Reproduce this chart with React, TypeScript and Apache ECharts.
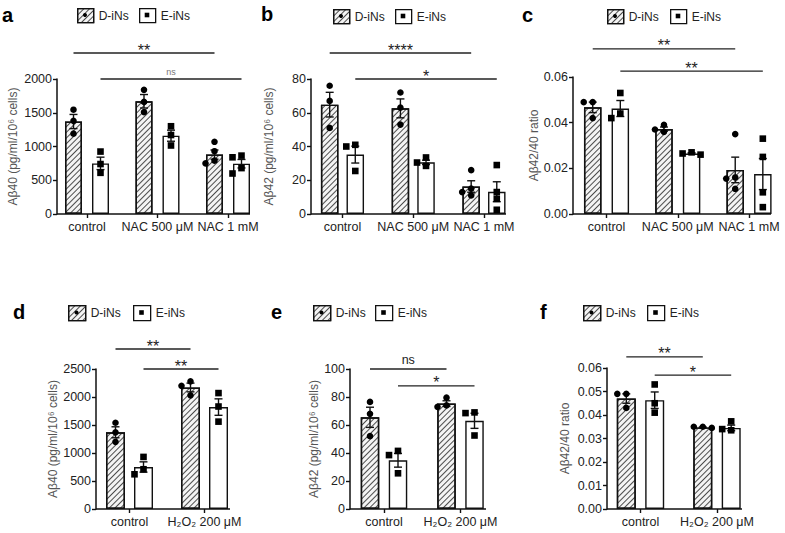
import React, { useEffect, useRef } from 'react';
import * as echarts from 'echarts';

const FONT = '"Liberation Sans", Arial, Helvetica, sans-serif';

// ---------------- data ----------------
const catsNAC = ['control', 'NAC 500 μM', 'NAC 1 mM'];
const catsH2O2 = ['control', 'H₂O₂ 200 μM'];
const legendNames = ['D-iNs', 'E-iNs'];

// panel a: Aβ40 (NAC)
const aDMean = [1370, 1670, 880];
const aDSem = [105, 100, 68];
const aDPts = [[1545, 1380, 1190], [1840, 1660, 1510], [1070, 930, 790, 750]];
const aEMean = [750, 1160, 745];
const aESem = [92, 82, 63];
const aEPts = [[925, 740, 610], [1300, 1170, 1015], [865, 840, 680, 600]];
const aSig: [number, number, number, number, string][] = [[0, 2, 0, 2385, '**'], [0, 2, 1, 2000, 'ns']];

// panel b: Aβ42 (NAC)
const bDMean = [64.8, 62.6, 16.3];
const bDSem = [7.3, 5.6, 3.4];
const bDPts = [[76, 67, 51], [72, 63, 53], [26, 15, 13, 11]];
const bEMean = [35.2, 30.6, 13.2];
const bESem = [5.0, 1.3, 5.9];
const bEPts = [[41, 40, 25.5], [33.5, 30.5, 28.5], [29, 13, 9, 2.5]];
const bSig: [number, number, number, number, string][] = [[0, 2, 0, 95.4, '****'], [0, 2, 1, 80, '*']];

// panel c: Aβ42/40 ratio (NAC)
const cDMean = [0.0467, 0.0372, 0.0193];
const cDSem = [0.0023, 0.0009, 0.0056];
const cDPts = [[0.049, 0.049, 0.042], [0.039, 0.037, 0.036], [0.035, 0.016, 0.0155, 0.011]];
const cEMean = [0.0462, 0.0265, 0.0175];
const cESem = [0.0035, 0.0003, 0.0068];
const cEPts = [[0.053, 0.044, 0.042], [0.027, 0.0265, 0.026], [0.033, 0.025, 0.0095, 0.003]];
const cSig: [number, number, number, number, string][] = [[0, 2, 0, 0.0723, '**'], [0, 2, 1, 0.0626, '**']];

// panel d: Aβ40 (H2O2)
const dDMean = [1370, 2170];
const dDSem = [98, 78];
const dDPts = [[1540, 1370, 1200], [2280, 2200, 2030]];
const dEMean = [750, 1820];
const dESem = [92, 147];
const dEPts = [[930, 710, 620], [2070, 1830, 1560]];
const dSig: [number, number, number, number, string][] = [[0, 1, 0, 2857, '**'], [0, 1, 1, 2500, '**']];

// panel e: Aβ42 (H2O2)
const eDMean = [65.5, 75.3];
const eDSem = [7.2, 2.0];
const eDPts = [[76.5, 68, 52], [79.5, 74, 73]];
const eEMean = [34.8, 63.0];
const eESem = [4.9, 5.4];
const eEPts = [[41.5, 38.5, 25.5], [69, 68.5, 52.5]];
const eSig: [number, number, number, number, string][] = [[0, 1, 0, 100, 'ns'], [0, 1, 1, 88, '*']];

// panel f: Aβ42/40 ratio (H2O2)
const fDMean = [0.047, 0.0347];
const fDSem = [0.002, 0.0002];
const fDPts = [[0.049, 0.049, 0.043], [0.035, 0.035, 0.0345]];
const fEMean = [0.0463, 0.0345];
const fESem = [0.0035, 0.0012];
const fEPts = [[0.053, 0.045, 0.041], [0.0373, 0.0335, 0.034]];
const fSig: [number, number, number, number, string][] = [[0, 1, 0, 0.0647, '**'], [0, 1, 1, 0.057, '*']];

const yNames = ['Aβ40 (pg/ml/10⁶ cells)', 'Aβ42 (pg/ml/10⁶ cells)', 'Aβ42/40 ratio'];

// ---------------- layout / styles ----------------
type Panel = {
  letter: string; lx: number; ly: number;
  left: number; top: number; width: number; height: number;
  yAxisX: number; xEnd: number; barW: number; barOff: number;
  legDX: number; legEX: number; legY: number; legW: number; legH: number;
  nameGap: number; yName: string; yMax: number; yInterval: number; decimals: number;
  nsSmall: boolean;
  cats: string[];
  dMean: number[]; dSem: number[]; dPts: number[][];
  eMean: number[]; eSem: number[]; ePts: number[][];
  sig: [number, number, number, number, string][];
};

const panels: Panel[] = [
  { letter: 'a', lx: 2, ly: 25, left: 51.75, top: 79, width: 211.5, height: 135, yAxisX: 57, xEnd: 250, barW: 17, barOff: 13.5,
    legDX: 77, legEX: 139, legY: 8, legW: 16, legH: 14, nameGap: 38, yName: yNames[0], yMax: 2000, yInterval: 500, decimals: 0, nsSmall: true,
    cats: catsNAC, dMean: aDMean, dSem: aDSem, dPts: aDPts, eMean: aEMean, eSem: aESem, ePts: aEPts, sig: aSig },
  { letter: 'b', lx: 261, ly: 24, left: 307.1, top: 79, width: 212.25, height: 135, yAxisX: 311, xEnd: 506, barW: 17.5, barOff: 12.8,
    legDX: 333, legEX: 395, legY: 9, legW: 16, legH: 14, nameGap: 36, yName: yNames[1], yMax: 80, yInterval: 20, decimals: 0, nsSmall: true,
    cats: catsNAC, dMean: bDMean, dSem: bDSem, dPts: bDPts, eMean: bEMean, eSem: bESem, ePts: bEPts, sig: bSig },
  { letter: 'c', lx: 522, ly: 25, left: 570.9, top: 77, width: 213.75, height: 137, yAxisX: 573, xEnd: 771, barW: 17.5, barOff: 13.8,
    legDX: 607, legEX: 670, legY: 9, legW: 16, legH: 14, nameGap: 31, yName: yNames[2], yMax: 0.06, yInterval: 0.02, decimals: 2, nsSmall: true,
    cats: catsNAC, dMean: cDMean, dSem: cDSem, dPts: cDPts, eMean: cEMean, eSem: cESem, ePts: cEPts, sig: cSig },
  { letter: 'd', lx: 13, ly: 322, left: 92, top: 369, width: 150, height: 140, yAxisX: 96, xEnd: 230, barW: 19, barOff: 14,
    legDX: 68, legEX: 133, legY: 305, legW: 17, legH: 15, nameGap: 37, yName: yNames[0], yMax: 2500, yInterval: 500, decimals: 0, nsSmall: false,
    cats: catsH2O2, dMean: dDMean, dSem: dDSem, dPts: dDPts, eMean: dEMean, eSem: dESem, ePts: dEPts, sig: dSig },
  { letter: 'e', lx: 271, ly: 322, left: 345.75, top: 369, width: 153, height: 140, yAxisX: 350, xEnd: 486, barW: 18.5, barOff: 14,
    legDX: 313, legEX: 375, legY: 305, legW: 17, legH: 15, nameGap: 30, yName: yNames[1], yMax: 100, yInterval: 20, decimals: 0, nsSmall: false,
    cats: catsH2O2, dMean: eDMean, dSem: eDSem, dPts: eDPts, eMean: eEMean, eSem: eESem, ePts: eEPts, sig: eSig },
  { letter: 'f', lx: 540, ly: 322, left: 602.25, top: 368, width: 153, height: 141, yAxisX: 607, xEnd: 742, barW: 19, barOff: 14.2,
    legDX: 583, legEX: 647, legY: 305, legW: 17, legH: 15, nameGap: 36, yName: yNames[2], yMax: 0.06, yInterval: 0.01, decimals: 2, nsSmall: false,
    cats: catsH2O2, dMean: fDMean, dSem: fDSem, dPts: fDPts, eMean: fEMean, eSem: fESem, ePts: fEPts, sig: fSig },
];

const INK = '#111';
const HATCH = {
  symbol: 'rect',
  symbolSize: 1,
  color: 'rgba(20,20,20,0.75)',
  dashArrayX: [1, 0],
  dashArrayY: [1, 3],
  rotation: -Math.PI / 4,
};

function errRender(p: Panel, side: number) {
  return (params: any, api: any) => {
    const c = api.value(0), m = api.value(1), s = api.value(2);
    const hi = api.coord([c, m + s]);
    const lo = api.coord([c, m - s]);
    const x = hi[0] + side * p.barOff;
    const cap = 4;
    const st = { stroke: INK, lineWidth: 1.4 };
    return {
      type: 'group',
      children: [
        { type: 'line', shape: { x1: x, y1: hi[1], x2: x, y2: lo[1] }, style: st },
        { type: 'line', shape: { x1: x - cap, y1: hi[1], x2: x + cap, y2: hi[1] }, style: st },
        { type: 'line', shape: { x1: x - cap, y1: lo[1], x2: x + cap, y2: lo[1] }, style: st },
      ],
    };
  };
}

function ptsRender(p: Panel, side: number, pts: number[][], shape: 'circle' | 'square') {
  return (params: any, api: any) => {
    const i = params.dataIndex;
    const c = api.value(0);
    const placed: number[][] = [];
    const children: any[] = [];
    const tries = [0, -5, 5, -9, 9];
    for (const v of pts[i]) {
      const pt = api.coord([c, v]);
      const cx0 = pt[0] + side * p.barOff;
      let dx = 0;
      for (const t of tries) {
        if (!placed.some((q) => Math.abs(q[0] - (cx0 + t)) < 6 && Math.abs(q[1] - pt[1]) < 6)) { dx = t; break; }
      }
      const x = cx0 + dx, y = pt[1];
      placed.push([x, y]);
      children.push(
        shape === 'circle'
          ? { type: 'circle', shape: { cx: x, cy: y, r: 3.3 }, style: { fill: '#000' } }
          : { type: 'rect', shape: { x: x - 3.3, y: y - 3.3, width: 6.6, height: 6.6 }, style: { fill: '#000' } }
      );
    }
    return { type: 'group', children };
  };
}

function sigRender(p: Panel) {
  return (params: any, api: any) => {
    const s = p.sig[params.dataIndex];
    const side = s[2] === 0 ? -1 : 1;
    const a = api.coord([s[0], s[3]]);
    const b = api.coord([s[1], s[3]]);
    const x1 = a[0] + side * p.barOff, x2 = b[0] + side * p.barOff, y = a[1];
    const txt = s[4];
    const ts = txt === 'ns'
      ? (p.nsSmall ? { fontSize: 9, fill: '#777', dy: 7 } : { fontSize: 12.5, fill: '#222', dy: 9 })
      : { fontSize: 16, fill: '#222', dy: 3 };
    return {
      type: 'group',
      children: [
        { type: 'line', shape: { x1, y1: y, x2, y2: y }, style: { stroke: '#222', lineWidth: 1.3 } },
        { type: 'text', x: (x1 + x2) / 2, y: y - ts.dy,
          style: { text: txt, fontSize: ts.fontSize, fill: ts.fill, align: 'center', verticalAlign: 'middle', fontFamily: FONT } },
      ],
    };
  };
}

function buildOption() {
  const legends: any[] = [];
  const graphics: any[] = [];
  panels.forEach((p) => {
    [p.legDX, p.legEX].forEach((x, k) => {
      legends.push({
        data: [legendNames[k]], left: x, top: p.legY, padding: 0, itemGap: 0,
        itemWidth: p.legW, itemHeight: p.legH, icon: 'rect', selectedMode: false,
        itemStyle: { borderWidth: 1.3, borderColor: INK },
        textStyle: { fontSize: 12, color: '#222', fontFamily: FONT },
      });
    });
    graphics.push({ type: 'text', x: p.lx, y: p.ly, z: 100,
      style: { text: p.letter, fontSize: 20, fontWeight: 'bold', fontFamily: FONT, fill: '#000', verticalAlign: 'bottom' } });
    graphics.push({ type: 'line', z: 100, shape: { x1: p.yAxisX, y1: p.top + p.height, x2: p.xEnd, y2: p.top + p.height },
      style: { stroke: INK, lineWidth: 1.5 } });
    graphics.push({ type: 'circle', z: 100, shape: { cx: p.legDX + p.legW / 2, cy: p.legY + p.legH / 2, r: 2 }, style: { fill: '#000' } });
    graphics.push({ type: 'rect', z: 100, shape: { x: p.legEX + p.legW / 2 - 2.3, y: p.legY + p.legH / 2 - 2.3, width: 4.6, height: 4.6 }, style: { fill: '#000' } });
  });

  const series: any[] = [];
  panels.forEach((p, i) => {
    const gap = ((2 * p.barOff) / p.barW - 1) * 100 + '%';
    const ax = { xAxisIndex: i, yAxisIndex: i };
    series.push(
      { ...ax, type: 'bar', name: legendNames[0], data: p.dMean, barWidth: p.barW, barGap: gap, z: 2,
        itemStyle: { color: '#f4f4f4', borderColor: INK, borderWidth: 1.4, decal: HATCH } },
      { ...ax, type: 'bar', name: legendNames[1], data: p.eMean, barWidth: p.barW, barGap: gap, z: 2,
        itemStyle: { color: '#fff', borderColor: INK, borderWidth: 1.4 } },
      { ...ax, type: 'custom', name: 'errD', clip: false, z: 3, data: p.dMean.map((m, k) => [k, m, p.dSem[k]]), renderItem: errRender(p, -1) },
      { ...ax, type: 'custom', name: 'errE', clip: false, z: 3, data: p.eMean.map((m, k) => [k, m, p.eSem[k]]), renderItem: errRender(p, 1) },
      { ...ax, type: 'custom', name: 'ptsD', clip: false, z: 4, data: p.dPts.map((_, k) => [k, 0]), renderItem: ptsRender(p, -1, p.dPts, 'circle') },
      { ...ax, type: 'custom', name: 'ptsE', clip: false, z: 4, data: p.ePts.map((_, k) => [k, 0]), renderItem: ptsRender(p, 1, p.ePts, 'square') },
      { ...ax, type: 'custom', name: 'sig', clip: false, z: 4, data: p.sig.map((s) => [s[0], s[3]]), renderItem: sigRender(p) },
    );
  });

  return {
    animation: false,
    backgroundColor: '#fff',
    textStyle: { fontFamily: FONT },
    legend: legends,
    graphic: graphics,
    grid: panels.map((p) => ({ left: p.left, top: p.top, width: p.width, height: p.height })),
    xAxis: panels.map((p, i) => ({
      type: 'category', gridIndex: i, data: p.cats,
      axisLine: { show: false },
      axisTick: { show: true, alignWithLabel: true, length: 4, lineStyle: { color: INK, width: 1.4 } },
      axisLabel: { color: '#222', fontSize: 12.5, margin: 6, interval: 0, fontFamily: FONT },
      splitLine: { show: false },
    })),
    yAxis: panels.map((p, i) => ({
      type: 'value', gridIndex: i, min: 0, max: p.yMax, interval: p.yInterval,
      offset: p.left - p.yAxisX,
      axisLine: { show: true, lineStyle: { color: INK, width: 1.5 } },
      axisTick: { show: true, length: 4, lineStyle: { color: INK, width: 1.4 } },
      axisLabel: { color: '#222', fontSize: 12.5, margin: 5, fontFamily: FONT,
        formatter: (v: number) => (p.decimals ? v.toFixed(p.decimals) : String(Math.round(v))) },
      splitLine: { show: false },
      name: p.yName, nameLocation: 'middle', nameGap: p.nameGap,
      nameTextStyle: { fontSize: 12, color: '#555', fontFamily: FONT },
    })),
    series,
  };
}

export default function App() {
  const ref = useRef<HTMLDivElement>(null);
  useEffect(() => {
    if (!ref.current) return;
    const chart = echarts.init(ref.current, undefined, { renderer: 'svg' });
    chart.setOption(buildOption() as any);
    return () => chart.dispose();
  }, []);
  return <div ref={ref} style={{ position: 'fixed', left: 0, top: 0, width: 785, height: 533, background: '#fff' }} />;
}
